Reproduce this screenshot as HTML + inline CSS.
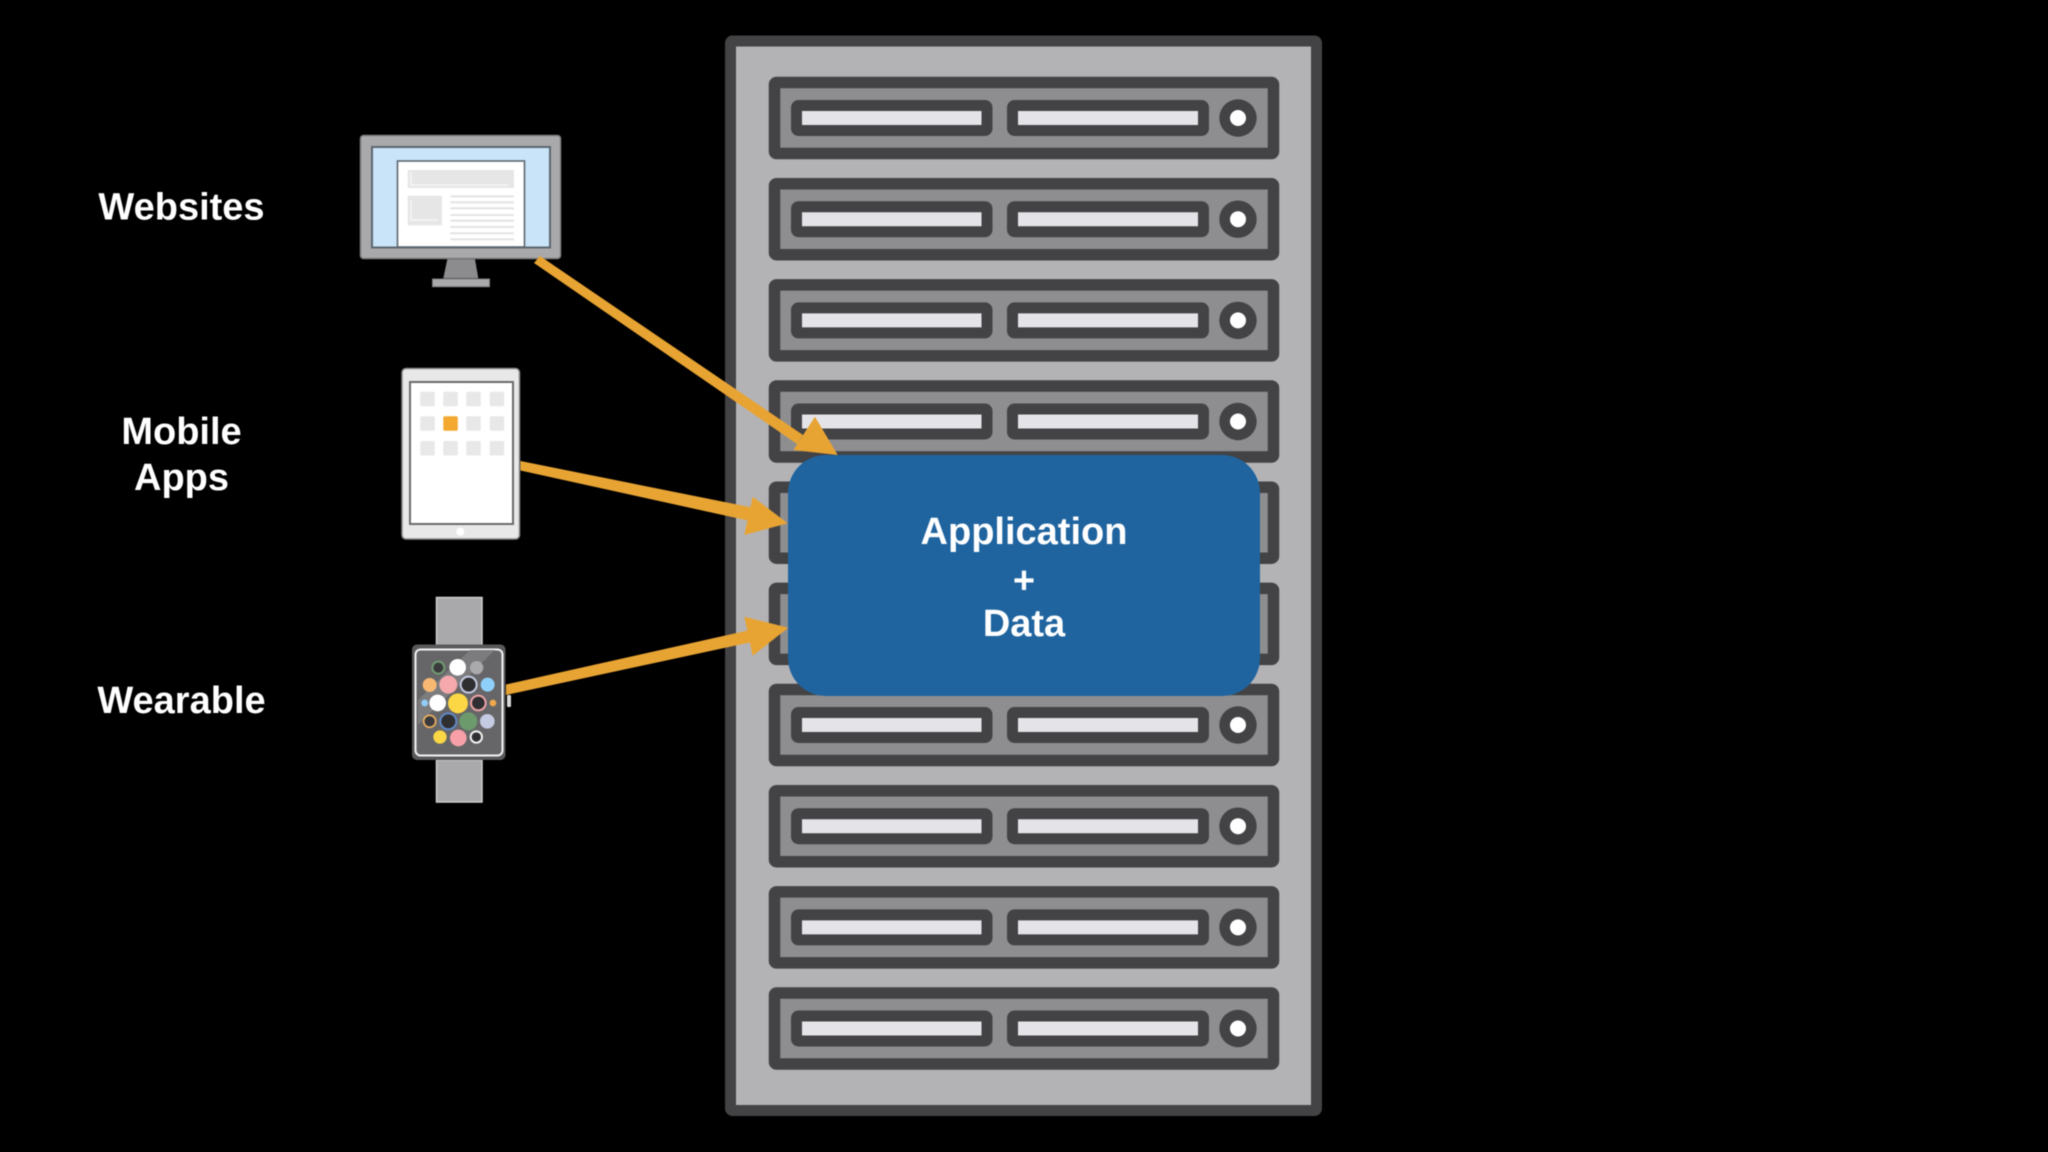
<!DOCTYPE html>
<html lang="en">
<head>
<meta charset="utf-8">
<title>Application + Data</title>
<style>
html,body{margin:0;padding:0;background:#000;width:2048px;height:1152px;overflow:hidden}
svg{display:block;filter:blur(.4px)}
text{font-family:"Liberation Sans",Arial,sans-serif;font-weight:700;font-size:38px;fill:#fff;text-anchor:middle}
</style>
</head>
<body>
<svg xmlns="http://www.w3.org/2000/svg" width="2048" height="1152" viewBox="0 0 2048 1152">
<defs>
<g id="unit">
  <rect x="774.5" y="-35.5" width="499" height="71" rx="2" fill="#8e8e91" stroke="#434245" stroke-width="11.5"/>
  <rect x="796.5" y="-12.5" width="190.5" height="25" rx="2" fill="#e4e4e8" stroke="#434245" stroke-width="11"/>
  <rect x="1012.5" y="-12.5" width="191" height="25" rx="2" fill="#e4e4e8" stroke="#434245" stroke-width="11"/>
  <circle cx="1238" cy="0" r="18.7" fill="#434245"/>
  <circle cx="1238" cy="0" r="8" fill="#fff"/>
</g>
</defs>
<rect width="2048" height="1152" fill="#000"/>

<!-- Cabinet -->
<rect x="730.5" y="41" width="586" height="1069.5" rx="2" fill="#b3b3b6" stroke="#434245" stroke-width="11"/>
<use href="#unit" y="118"/>
<use href="#unit" y="219.2"/>
<use href="#unit" y="320.4"/>
<use href="#unit" y="421.5"/>
<use href="#unit" y="522.7"/>
<use href="#unit" y="623.9"/>
<use href="#unit" y="725"/>
<use href="#unit" y="826.2"/>
<use href="#unit" y="927.4"/>
<use href="#unit" y="1028.5"/>

<!-- Blue box -->
<rect x="788" y="455" width="472" height="241" rx="38" fill="#1f649f"/>
<text x="1024" y="544">Application</text>
<text x="1024" y="593">+</text>
<text x="1024" y="636">Data</text>

<!-- Labels -->
<text x="181.5" y="219.5">Websites</text>
<text x="181.5" y="444">Mobile</text>
<text x="181.5" y="490">Apps</text>
<text x="181.5" y="713">Wearable</text>

<!-- Monitor -->
<g>
  <rect x="360.5" y="135.5" width="200" height="123" rx="3" fill="#a9a9ab" stroke="#7d7d7f" stroke-width="1.5"/>
  <rect x="372" y="147" width="178" height="100.5" fill="#c9e4f8" stroke="#5c6670" stroke-width="2"/>
  <rect x="397.5" y="161" width="127" height="86" fill="#fff" stroke="#5c6670" stroke-width="1.6"/>
  <rect x="407.7" y="170" width="106.3" height="18" fill="#e6e6e6"/>
  <path d="M411 173v12h97" fill="none" stroke="#f6f6f6" stroke-width="1.5"/>
  <rect x="407.7" y="195.7" width="34.3" height="29.6" fill="#e6e6e6"/>
  <path d="M411 200v20h27" fill="none" stroke="#f6f6f6" stroke-width="1.5"/>
  <g stroke="#e2e2e2" stroke-width="1.8">
    <path d="M450.3 196.3H514M450.3 202.3H514M450.3 208.3H514M450.3 215H514M450.3 220.7H514M450.3 227H514M450.3 233.3H514M450.3 239.3H514"/>
  </g>
  <polygon points="447.3,259.3 475,259.3 478.3,278.3 443.3,278.3" fill="#8c8c8e"/>
  <rect x="432.5" y="279" width="57" height="7.7" fill="#a9a9ab" stroke="#7d7d7f" stroke-width="1"/>
</g>

<!-- Tablet -->
<g>
  <rect x="402" y="368.5" width="117.5" height="170.5" rx="4" fill="#e8e8e8" stroke="#8a8a8a" stroke-width="1.5"/>
  <rect x="410" y="382" width="103" height="142" fill="#fff" stroke="#6a6a6a" stroke-width="2"/>
  <g fill="#e8e8e8">
    <rect x="420.3" y="391.7" width="14.5" height="14.5" rx="1.5"/>
    <rect x="443.3" y="391.7" width="14.5" height="14.5" rx="1.5"/>
    <rect x="466.3" y="391.7" width="14.5" height="14.5" rx="1.5"/>
    <rect x="489.7" y="391.7" width="14.5" height="14.5" rx="1.5"/>
    <rect x="420.3" y="416.3" width="14.5" height="14.5" rx="1.5"/>
    <rect x="466.3" y="416.3" width="14.5" height="14.5" rx="1.5"/>
    <rect x="489.7" y="416.3" width="14.5" height="14.5" rx="1.5"/>
    <rect x="420.3" y="441" width="14.5" height="14.5" rx="1.5"/>
    <rect x="443.3" y="441" width="14.5" height="14.5" rx="1.5"/>
    <rect x="466.3" y="441" width="14.5" height="14.5" rx="1.5"/>
    <rect x="489.7" y="441" width="14.5" height="14.5" rx="1.5"/>
  </g>
  <rect x="443.3" y="416.3" width="14.5" height="14.5" rx="1.5" fill="#f3a82f"/>
  <circle cx="460.3" cy="531.7" r="4" fill="#fff"/>
</g>

<!-- Watch -->
<g>
  <rect x="436.5" y="597.5" width="45.5" height="48" fill="#a9a9ab" stroke="#d0d0d0" stroke-width="1.5"/>
  <rect x="436.5" y="760" width="45.5" height="42" fill="#a9a9ab" stroke="#d0d0d0" stroke-width="1.5"/>
  <rect x="412" y="644.5" width="93.5" height="115.5" rx="5" fill="#59595b"/>
  <rect x="507" y="695" width="4" height="12" rx="1" fill="#d8d8d8"/>
  <rect x="415.5" y="649.5" width="87" height="106" rx="5" fill="#666668" stroke="#f2f2f2" stroke-width="2"/>
  <polygon points="470,650 495,650 418,725 418,700" fill="#7c7c7e"/>
  <g transform="translate(390 590) scale(.3333)">
    <circle cx="145" cy="233" r="18" fill="#3a3a3c" stroke="#6f9a70" stroke-width="6"/>
    <circle cx="203" cy="232" r="25" fill="#fff"/>
    <circle cx="260" cy="233" r="20" fill="#aaaaac"/>
    <circle cx="119" cy="285" r="21" fill="#f6b873"/>
    <circle cx="175" cy="284" r="27" fill="#f5a9ac"/>
    <circle cx="236" cy="284" r="24" fill="#2f2f31" stroke="#c5cbe3" stroke-width="6"/>
    <circle cx="293" cy="284" r="21" fill="#8fd0fa"/>
    <circle cx="104" cy="339" r="10" fill="#8fd0fa"/>
    <circle cx="143" cy="339" r="25" fill="#fff"/>
    <circle cx="204" cy="340" r="30" fill="#fbd645"/>
    <circle cx="265" cy="339" r="22" fill="#2f2f31" stroke="#f0a3a8" stroke-width="6"/>
    <circle cx="309" cy="339" r="10" fill="#f0a94a"/>
    <circle cx="119" cy="394" r="18" fill="#3a3a3c" stroke="#f0b060" stroke-width="5"/>
    <circle cx="175" cy="394" r="24" fill="#2f2f31" stroke="#5f88c5" stroke-width="6"/>
    <circle cx="235" cy="394" r="27" fill="#6c9a6c"/>
    <circle cx="292" cy="394" r="22" fill="#c5cbe3"/>
    <circle cx="150" cy="441" r="20" fill="#fbd645"/>
    <circle cx="205" cy="444" r="25" fill="#f7a0a8"/>
    <circle cx="259" cy="441" r="17" fill="#2f2f31" stroke="#f2f2f2" stroke-width="6"/>
  </g>
</g>

<!-- Arrows -->
<g fill="#e8a433" stroke="none">
  <polygon points="540,256 803,435 797,444 534,263"/>
  <polygon points="837.7,455 815,416.7 793.3,450"/>
  <polygon points="520.5,461 752,507.5 750,521 520.5,470.5"/>
  <polygon points="787.7,523.3 752.7,496.7 744.3,535"/>
  <polygon points="506,684.5 750,630 752,642 506,695"/>
  <polygon points="788.3,627.7 744.3,616.7 752.7,655.7"/>
</g>
</svg>
</body>
</html>
